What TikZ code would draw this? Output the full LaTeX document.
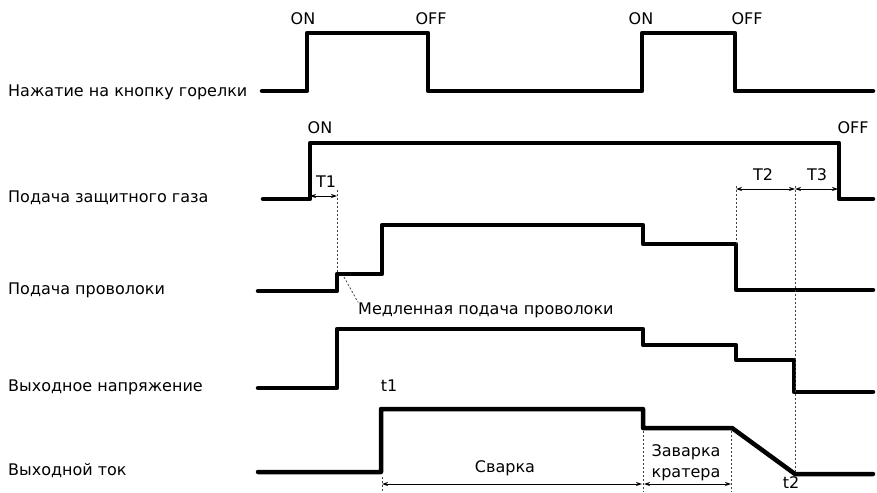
\documentclass[tikz,border=0pt]{standalone}
\usepackage{fontspec}
\setmainfont{DejaVu Sans}
\usetikzlibrary{arrows.meta,positioning}

\begin{document}
\begin{tikzpicture}[x=1pt,y=-1pt,
   signal/.style={line width=4.5pt,line cap=round,line join=round},
   guide/.style={dash pattern=on 2pt off 2pt,line width=0.8pt,black!75},
   dim/.style={{Stealth[length=6pt,width=4pt]}-{Stealth[length=6pt,width=4pt]},line width=0.8pt},
   lbl/.style={font=\fontsize{16}{18}\selectfont,inner sep=0pt}]
   \useasboundingbox (0,0) rectangle (877,492);

   % row names
   \node[lbl,anchor=west] (torch)   at (8,92)  {Нажатие на кнопку горелки};
   \node[lbl,anchor=west] (gas)     at (8,198) {Подача защитного газа};
   \node[lbl,anchor=west] (wire)    at (8,290) {Подача проволоки};
   \node[lbl,anchor=west] (voltage) at (8,387) {Выходное напряжение};
   \node[lbl,anchor=west] (current) at (8,471) {Выходной ток};

   % waveforms
   \draw[signal] (262,91) -| (307,33) -| (428,91) -| (642,33) -| (735,91) -- (873,91);
   \draw[signal] (263,199) -| (310,143) -| (839,199) -- (873,199);
   \draw[signal] (258,291) -| (337,274) -| (382,225) -| (643,244) -| (736,290) -- (873,290);
   \draw[signal] (258,388) -| (337,329) -| (643,345) -| (736,360) -| (794,392) -- (873,392);
   \draw[signal] (258,472) -| (381,409) -| (643,428) -- (732,428) -- (795,474) -- (873,474);

   % switch states
   \node[lbl] (on1)  at (303,19)  {ON};
   \node[lbl] (off1) at (431,19)  {OFF};
   \node[lbl] (on2)  at (641,19)  {ON};
   \node[lbl] (off2) at (747,19)  {OFF};
   \node[lbl] (on3)  at (320,128) {ON};
   \node[lbl] (off3) at (853,128) {OFF};

   % time marks
   \coordinate (a1) at (310,196);
   \coordinate (a2) at (337,196);
   \coordinate (b1) at (736,189);
   \coordinate (b2) at (795,189);
   \coordinate (b3) at (838,189);
   \draw[guide] (337,190) -- (337,273);
   \draw[guide] (736,186) -- (736,244);
   \draw[guide] (795,186) -- (795,473);
   \draw[dim] (a1) -- (a2);
   \draw[dim] (b1) -- (b2);
   \draw[dim] (b2) -- (b3);
   \node[lbl] (T1) at (326,182) {T1};
   \node[lbl] (T2) at (763,175) {T2};
   \node[lbl] (T3) at (817,175) {T3};

   \node[lbl,anchor=west] (slow) at (358,310) {Медленная подача проволоки};
   \coordinate (step) at (344,277);
   \draw[guide] (step) -- (slow.north west);

   \node[lbl] (t1) at (389,386) {t1};
   \node[lbl] (t2) at (791,483) {t2};

   % welding phases
   \coordinate (c1) at (382,484);
   \coordinate (c2) at (643,484);
   \coordinate (c3) at (731,484);
   \draw[guide] (382,477) -- (382,492);
   \draw[guide] (643,431) -- (643,492);
   \draw[guide] (731,431) -- (731,492);
   \draw[dim] (c1) -- ([xshift=-1pt]c2);
   \draw[dim] ([xshift=1pt]c2) -- (c3);
   \node[lbl] (weld)   at (505,468) {Сварка};
   \node[lbl,align=center,font=\fontsize{16}{21}\selectfont] (crater) at (686,463) {Заварка\\кратера};
\end{tikzpicture}
\end{document}
